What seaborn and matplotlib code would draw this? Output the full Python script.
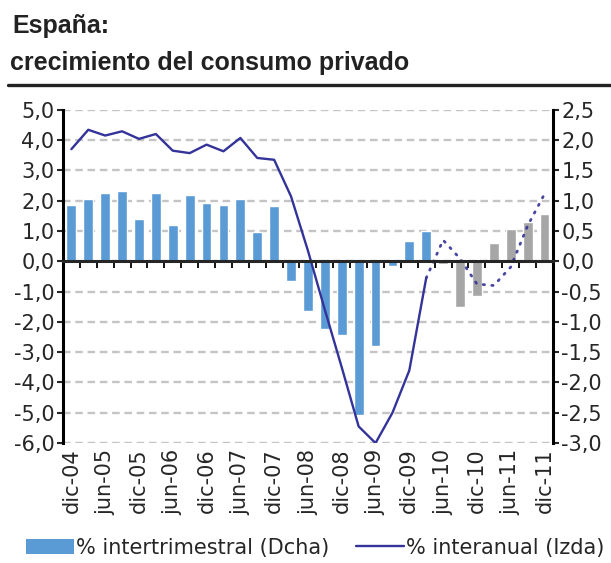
import numpy as np
import pandas as pd
import matplotlib
matplotlib.use("Agg")
import matplotlib.pyplot as plt
from matplotlib.lines import Line2D
from matplotlib.patches import Patch
import seaborn as sns

# trimestres dic-04 ... dic-11
trimestres = ["dic-04", "mar-05", "jun-05", "sep-05", "dic-05", "mar-06", "jun-06", "sep-06",
              "dic-06", "mar-07", "jun-07", "sep-07", "dic-07", "mar-08", "jun-08", "sep-08",
              "dic-08", "mar-09", "jun-09", "sep-09", "dic-09", "mar-10", "jun-10", "sep-10",
              "dic-10", "mar-11", "jun-11", "sep-11", "dic-11"]
etiquetas = ["dic-04", "jun-05", "dic-05", "jun-06", "dic-06", "jun-07", "dic-07", "jun-08",
             "dic-08", "jun-09", "dic-09", "jun-10", "dic-10", "jun-11", "dic-11"]

# % intertrimestral (eje dcha)
intertrim = [0.93, 1.03, 1.13, 1.16, 0.70, 1.13, 0.60, 1.09, 0.97, 0.93, 1.03, 0.49, 0.91,
             -0.32, -0.82, -1.12, -1.21, -2.53, -1.39, -0.08, 0.34, 0.50,
             -0.04, -0.75, -0.58, 0.30, 0.53, 0.64, 0.78]
# % interanual (eje izda)
interanual = [3.70, 4.34, 4.15, 4.29, 4.04, 4.20, 3.65, 3.57, 3.85, 3.63, 4.07, 3.41, 3.35,
              2.14, 0.35, -1.60, -3.50, -5.45, -6.00, -5.00, -3.60, -0.55,
              0.70, 0.09, -0.75, -0.80, -0.19, 1.17, 2.22]
n_real = 22  # a partir de aqui, prevision

df = pd.DataFrame({"trim": trimestres, "intertrim": intertrim, "interanual": interanual})
df["pos"] = np.arange(len(df))
df["tipo"] = ["real" if i < n_real else "prev" for i in range(len(df))]

azul = "#5b9bd5"
gris = "#a6a6a6"
linea = "#333399"

sns.set_style("white")
plt.rcParams["font.family"] = ["DejaVu Sans"]
plt.rcParams["font.size"] = 15

fig = plt.figure(figsize=(6.11, 5.63), dpi=100)
ax = fig.add_axes([0.103, 0.213, 0.802, 0.592])
ax2 = ax.twinx()
ax.set_zorder(ax2.get_zorder() + 1)
ax.patch.set_visible(False)

# barras (eje derecho)
sns.barplot(data=df, x="trim", y="intertrim", hue="tipo", palette={"real": azul, "prev": gris},
            dodge=False, width=0.58, legend=False, ax=ax2, saturation=1)
ax2.set_ylim(-3, 2.5)
ax2.set_yticks(np.arange(-3, 2.51, 0.5))
ax2.set_yticklabels([f"{v:.1f}".replace(".", ",") for v in np.arange(-3, 2.51, 0.5)])
ax2.yaxis.grid(True, color="#c4c4c4", linestyle=(0, (3.2, 2.0)), linewidth=1.7)
ax2.set_axisbelow(True)
ax2.set_ylabel("")
ax2.set_xlabel("")

# linea interanual (eje izquierdo)
real = df.iloc[:n_real]
prev = df.iloc[n_real - 1:]
sns.lineplot(data=real, x="pos", y="interanual", color=linea, lw=1.7, ax=ax)
sns.lineplot(data=prev, x="pos", y="interanual", color=linea, lw=2.0,
             linestyle=(0, (0.5, 2.6)), dash_capstyle="round", ax=ax, alpha=0.9)
ax.set_ylim(-6, 5)
ax.set_yticks(np.arange(-6, 5.1, 1))
ax.set_yticklabels([f"{v:.1f}".replace(".", ",") for v in np.arange(-6, 5.1, 1)])
ax.set_xlim(-0.5, len(df) - 0.5)
ax2.set_xlim(-0.5, len(df) - 0.5)
ax.set_ylabel("")
ax.set_xlabel("")

# eje cero con marcas entre trimestres
ax.spines["bottom"].set_position(("data", 0))
ax.spines["bottom"].set_linewidth(2.2)
ax.set_xticks(np.arange(-0.5, len(df), 1))
ax.set_xticklabels([])
ax.tick_params(axis="x", direction="out", length=5, width=1.3, color="black")

for a in (ax, ax2):
    a.spines["top"].set_visible(False)
ax.spines["right"].set_visible(False)
ax2.spines["left"].set_visible(False)
ax2.spines["bottom"].set_visible(False)
ax.spines["left"].set_linewidth(2.2)
ax.spines["left"].set_color("black")
ax2.spines["right"].set_linewidth(2.2)
ax2.spines["right"].set_color("black")
ax.tick_params(axis="y", direction="out", length=4, width=1.5, pad=2, labelsize=15)
ax2.tick_params(axis="y", direction="out", length=4, width=1.5, pad=2, labelsize=15)
ax2.tick_params(axis="x", bottom=False, labelbottom=False)

# etiquetas de fecha abajo
ax3 = ax.twiny()
ax3.set_xlim(-0.5, len(df) - 0.5)
ax3.xaxis.set_ticks_position("bottom")
ax3.xaxis.set_label_position("bottom")
for s in ax3.spines.values():
    s.set_visible(False)
ax3.set_xticks([trimestres.index(e) for e in etiquetas])
ax3.set_xticklabels(etiquetas, rotation=90)
ax3.tick_params(axis="x", length=0, pad=4, labelsize=15)

# titulo
fig.text(0.021, 0.9414, "España:", fontsize=18, fontweight="bold", va="baseline",
         color="#222222", family="Liberation Sans")
fig.text(0.016, 0.8757, "crecimiento del consumo privado", fontsize=18, fontweight="bold",
         va="baseline", color="#222222", family="Liberation Sans")
fig.add_artist(Line2D([0.013, 1.0], [0.849, 0.849], lw=2.4, color="#222222"))

# leyenda
handles = [Patch(facecolor=azul, edgecolor="none"), Line2D([], [], color=linea, lw=1.7)]
fig.legend(handles, ["% intertrimestral (Dcha)", "% interanual (Izda)"], loc="center",
           bbox_to_anchor=(0.516, 0.027), ncol=2, frameon=False, fontsize=15,
           handlelength=2.3, handleheight=0.75, handletextpad=0.1, columnspacing=1.3,
           borderaxespad=0)

fig.savefig("out.png", dpi=100)
